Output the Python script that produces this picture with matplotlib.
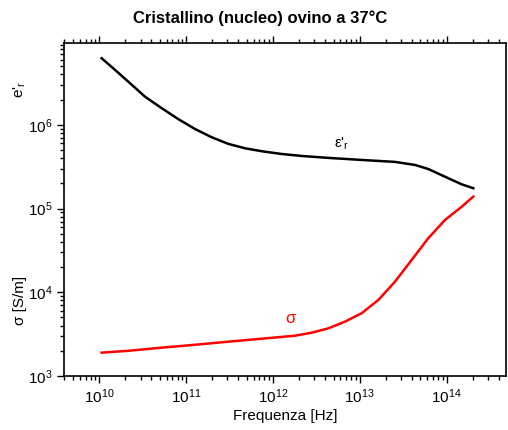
import matplotlib
matplotlib.use("Agg")
import matplotlib.pyplot as plt
from matplotlib.ticker import LogLocator, NullFormatter

plt.rcParams['font.family'] = ['Liberation Sans', 'DejaVu Sans']
plt.rcParams['mathtext.fontset'] = 'custom'
plt.rcParams['mathtext.rm'] = 'Liberation Sans'
plt.rcParams['mathtext.it'] = 'Liberation Sans'
plt.rcParams['mathtext.bf'] = 'Liberation Sans:bold'

# Relative permittivity (real part)
freq_eps = [1.07e10, 1.53e10, 2.17e10, 3.38e10, 5.27e10, 8.18e10, 1.27e11,
            1.98e11, 3.08e11, 4.79e11, 7.45e11, 1.26e12, 2.15e12, 4.36e12,
            1.05e13, 2.55e13, 4.33e13, 6.15e13, 9.6e13, 1.49e14, 2.03e14]
eps_r = [6.25e6, 4.53e6, 3.28e6, 2.17e6, 1.58e6, 1.17e6, 8.93e5,
         7.11e5, 5.92e5, 5.25e5, 4.84e5, 4.49e5, 4.25e5, 4.03e5,
         3.81e5, 3.61e5, 3.32e5, 2.97e5, 2.40e5, 1.95e5, 1.75e5]

# Conductivity
freq_sig = [1.07e10, 2.17e10, 5.27e10, 1.27e11, 3.08e11, 7.45e11, 1.80e12,
            2.80e12, 4.36e12, 6.78e12, 1.05e13, 1.64e13, 2.55e13, 3.96e13,
            6.15e13, 9.6e13, 1.49e14, 2.03e14]
sigma = [1.90e3, 2.00e3, 2.18e3, 2.36e3, 2.57e3, 2.79e3, 3.03e3,
         3.29e3, 3.71e3, 4.46e3, 5.61e3, 8.09e3, 1.34e4, 2.43e4,
         4.42e4, 7.31e4, 1.05e5, 1.39e5]

fig = plt.figure(figsize=(5.08, 4.30), dpi=100)
ax = fig.add_axes([64 / 508, 54 / 430, 442 / 508, 333 / 430])

ax.plot(freq_eps, eps_r, color='black', lw=1.8)
ax.plot(freq_sig, sigma, color='#ff0000', lw=1.8)

ax.set_xscale('log')
ax.set_yscale('log')
ax.set_xlim(3.95e9, 4.83e14)
ax.set_ylim(1e3, 9.5e6)

ax.xaxis.set_major_locator(LogLocator(base=10, numticks=20))
ax.xaxis.set_minor_locator(LogLocator(base=10, subs=range(2, 10), numticks=50))
ax.xaxis.set_minor_formatter(NullFormatter())
ax.yaxis.set_major_locator(LogLocator(base=10, numticks=20))
ax.yaxis.set_minor_locator(LogLocator(base=10, subs=range(2, 10), numticks=50))
ax.yaxis.set_minor_formatter(NullFormatter())

ax.tick_params(which='both', direction='out', top=True, right=False,
               labelsize=11, width=1.0)
ax.tick_params(which='major', length=5)
ax.tick_params(which='minor', length=3)
for s in ax.spines.values():
    s.set_linewidth(1.2)

ax.set_xlabel('Frequenza [Hz]', fontsize=11, labelpad=2)
fig.text(260 / 508, 1 - 18 / 430, 'Cristallino (nucleo) ovino a 37°C',
         fontsize=12, fontweight='bold', ha='center', va='center')

fig.text(20 / 508, 1 - 90 / 430, "e'$_{\\mathrm{r}}$",
         rotation=90, ha='center', va='center', fontsize=11)
fig.text(20 / 508, 1 - 300 / 430, 'σ [S/m]', rotation=90,
         ha='center', va='center', fontsize=11)

ax.text(6.2e12, 6.0e5, "ε'$_{\\mathrm{r}}$",
        fontsize=11, ha='center', va='center')
ax.text(1.58e12, 4.9e3, 'σ', color='#ff0000', fontsize=12,
        ha='center', va='center')

fig.savefig('out.png', dpi=100)
